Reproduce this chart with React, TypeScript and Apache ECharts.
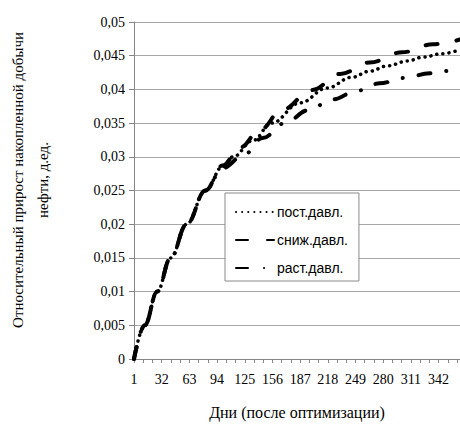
import React, { useEffect, useRef } from "react";
import * as echarts from "echarts";

// X axis tick labels (days)
const dayLabels = [1, 32, 63, 94, 125, 156, 187, 218, 249, 280, 311, 342];

// Series names
const seriesNames = ["пост.давл.", "сниж.давл.", "раст.давл."];

// пост.давл. (dotted)
const postDays = [1, 13, 27, 42, 60, 81, 100, 112, 134, 155, 187, 217, 245, 265, 285, 307, 325, 346, 366];
const postValues = [0, 0.005, 0.01, 0.015, 0.02, 0.025, 0.0285, 0.03, 0.0324, 0.035, 0.038, 0.0402, 0.0418, 0.0427, 0.0435, 0.0442, 0.0448, 0.0453, 0.0459];

// сниж.давл. (dashed)
const snizhDays = [1, 13, 27, 42, 60, 81, 100, 120, 142, 167, 200, 232, 265, 301, 336, 366];
const snizhValues = [0, 0.005, 0.01, 0.015, 0.02, 0.025, 0.0287, 0.0314, 0.034, 0.037, 0.0399, 0.0423, 0.044, 0.0455, 0.0467, 0.0474];

// раст.давл. (dash-dot)
const rastDays = [1, 13, 27, 42, 60, 81, 100, 125, 145, 170, 196, 223, 251, 276, 304, 332, 358, 366];
const rastValues = [0, 0.005, 0.01, 0.015, 0.02, 0.025, 0.0283, 0.0304, 0.0328, 0.035, 0.0369, 0.0385, 0.0398, 0.0409, 0.0417, 0.0424, 0.0428, 0.043];

const zip = (xs: number[], ys: number[]) => xs.map((x, i) => [x, ys[i]]);

export default function App() {
  const ref = useRef<HTMLDivElement>(null);
  useEffect(() => {
    if (!ref.current) return;
    const chart = echarts.init(ref.current, undefined, { renderer: "svg" });
    const tickValues: number[] = [];
    for (let i = 0; i < dayLabels.length; i++) {
      const a = dayLabels[i];
      const b = i + 1 < dayLabels.length ? dayLabels[i + 1] : a + 31;
      for (let k = 0; k < 3; k++) {
        const v = a + ((b - a) * k) / 3;
        if (v <= 366) tickValues.push(v);
      }
    }
    const serif = "'Liberation Serif', 'Times New Roman', serif";
    const sans = "'Liberation Sans', Arial, sans-serif";
    const lineBase = { color: "#000", width: 4, cap: "round" as const, join: "round" as const };
    chart.setOption({
      animation: false,
      backgroundColor: "#fff",
      grid: { left: 134, top: 22, right: 0, bottom: 59, containLabel: false },
      legend: {
        orient: "vertical",
        left: 225,
        top: 193,
        data: seriesNames,
        backgroundColor: "#fff",
        borderColor: "#8a8a8a",
        borderWidth: 1,
        borderRadius: 0,
        padding: [12, 11, 6, 10],
        itemWidth: 38,
        itemHeight: 14,
        itemGap: 14,
        itemStyle: { opacity: 0 },
        textStyle: { fontFamily: sans, fontSize: 14, color: "#000", padding: [0, 0, 0, -2] },
      },
      xAxis: {
        type: "value",
        min: 1,
        max: 366,
        name: "Дни (после оптимизации)",
        nameLocation: "middle",
        nameGap: 45,
        nameTextStyle: { fontFamily: serif, fontSize: 16, color: "#000" },
        axisLine: { show: true, lineStyle: { color: "#868686", width: 1 } },
        axisTick: { show: true, customValues: tickValues, length: 4, lineStyle: { color: "#868686" } },
        axisLabel: {
          customValues: dayLabels,
          fontFamily: serif,
          fontSize: 14,
          color: "#000",
          margin: 13,
        },
        splitLine: { show: false },
      },
      yAxis: {
        type: "value",
        min: 0,
        max: 0.05,
        interval: 0.005,
        axisLine: { show: true, lineStyle: { color: "#868686", width: 1 } },
        axisTick: { show: true, length: 5, lineStyle: { color: "#868686" } },
        axisLabel: {
          fontFamily: serif,
          fontSize: 14,
          color: "#000",
          margin: 9,
          formatter: (v: number) => String(Number(v.toFixed(3))).replace(".", ","),
        },
        splitLine: { show: true, lineStyle: { color: "#a6a6a6", width: 1 } },
      },
      graphic: [
        {
          type: "text",
          x: 18,
          y: 180,
          rotation: Math.PI / 2,
          style: {
            text: "Относительный прирост накопленной добычи",
            fontFamily: serif,
            fontSize: 15,
            fill: "#000",
            align: "center",
            verticalAlign: "middle",
          },
        },
        {
          type: "text",
          x: 43,
          y: 180,
          rotation: Math.PI / 2,
          style: {
            text: "нефти, д.ед.",
            fontFamily: serif,
            fontSize: 15,
            fill: "#000",
            align: "center",
            verticalAlign: "middle",
          },
        },
      ],
      series: [
        {
          name: seriesNames[0],
          type: "line",
          data: zip(postDays, postValues),
          smooth: 0.4,
          smoothMonotone: "x",
          symbol: "none",
          showSymbol: false,
          itemStyle: { color: "#000" },
          lineStyle: { ...lineBase, width: 3.5, type: [0.1, 6] },
          z: 3,
        },
        {
          name: seriesNames[1],
          type: "line",
          data: zip(snizhDays, snizhValues),
          smooth: 0.4,
          smoothMonotone: "x",
          symbol: "none",
          showSymbol: false,
          itemStyle: { color: "#000" },
          lineStyle: { ...lineBase, type: [12, 19] },
          z: 2,
        },
        {
          name: seriesNames[2],
          type: "line",
          data: zip(rastDays, rastValues),
          smooth: 0.4,
          smoothMonotone: "x",
          symbol: "none",
          showSymbol: false,
          itemStyle: { color: "#000" },
          lineStyle: { ...lineBase, type: [12, 16, 0.1, 16] },
          z: 2,
        },
      ],
    });
    return () => chart.dispose();
  }, []);
  return (
    <div
      ref={ref}
      style={{ position: "absolute", left: 0, top: 0, width: 460, height: 425 }}
    />
  );
}
